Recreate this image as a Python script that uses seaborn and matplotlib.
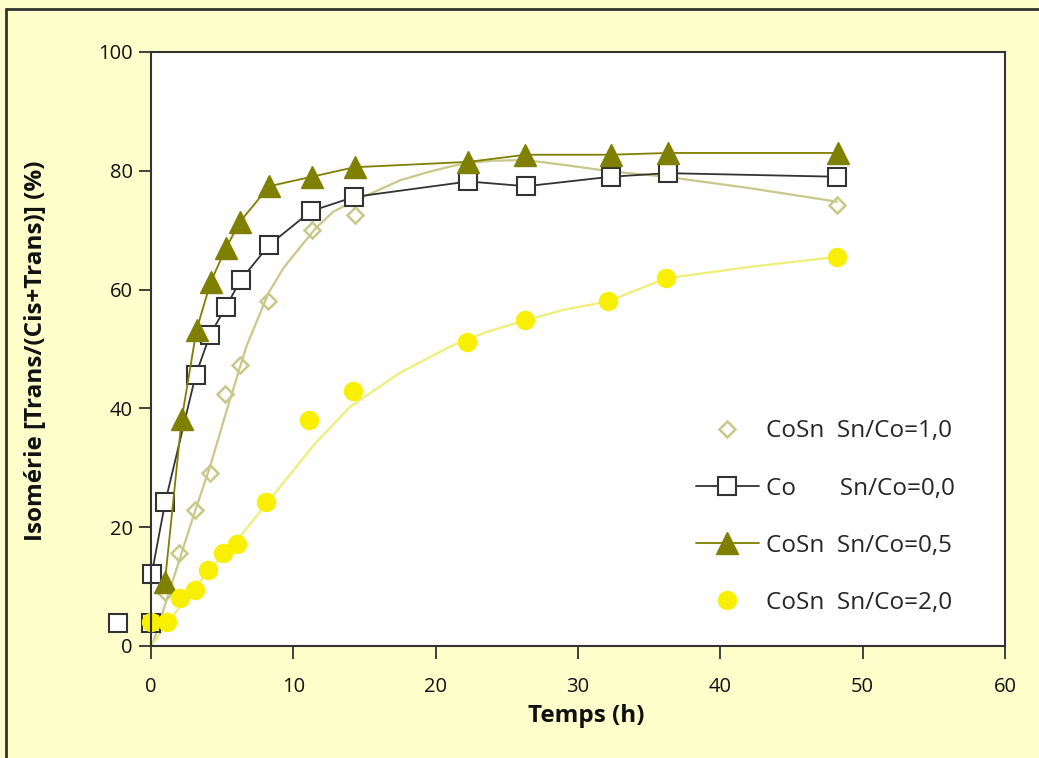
import matplotlib
matplotlib.use('Agg')
import matplotlib.pyplot as plt
from matplotlib.lines import Line2D
import seaborn as sns

# ---- Data ----
# CoSn Sn/Co=1,0 (open diamonds) + its trend curve
t_cosn10 = [0.98, 2.0, 3.1, 4.15, 5.2, 6.25, 8.25, 11.3, 14.3, 48.2]
y_cosn10 = [9.1, 15.6, 22.9, 29.2, 42.4, 47.3, 58.0, 70.0, 72.6, 74.2]
t_cosn10_fit = [0.1, 1.0, 2.0, 3.0, 4.15, 5.3, 6.7, 8.25, 9.3, 10.5, 11.6, 12.8, 14.0, 15.2, 17.5, 19.5,
                21.0, 22.2, 24.0, 26.3, 29.0, 32.3, 36.2, 42.0, 48.2]
y_cosn10_fit = [0.2, 7.0, 14.5, 22.0, 30.2, 39.5, 50.4, 59.4, 63.6, 67.2, 70.4, 73.1, 74.6, 75.9, 78.4, 79.8,
                80.7, 81.3, 81.7, 81.8, 81.0, 79.9, 79.0, 77.1, 74.8]

# Co Sn/Co=0,0 (open squares)
t_co_start = [-2.3, 0.0]
y_co_start = [3.9, 3.9]
t_co = [0.05, 1.0, 3.14, 4.15, 5.27, 6.3, 8.3, 11.24, 14.27, 22.3, 26.35, 32.3, 36.3, 48.2]
y_co = [12.1, 24.2, 45.6, 52.4, 57.1, 61.6, 67.5, 73.2, 75.6, 78.2, 77.4, 79.0, 79.6, 79.0]

# CoSn Sn/Co=0,5 (filled triangles)
t_cosn05 = [0.98, 2.16, 3.2, 4.2, 5.27, 6.25, 8.3, 11.3, 14.3, 22.3, 26.3, 32.3, 36.3, 48.3]
y_cosn05 = [10.8, 38.2, 53.2, 61.3, 67.0, 71.4, 77.4, 79.0, 80.6, 81.5, 82.7, 82.7, 83.0, 83.0]

# CoSn Sn/Co=2,0 (yellow dots) + its trend curve
t_cosn20 = [0.0, 1.1, 2.04, 3.1, 4.03, 5.08, 6.07, 8.08, 11.1, 14.2, 22.2, 26.3, 32.1, 36.2, 48.2]
y_cosn20 = [4.1, 4.1, 8.0, 9.4, 12.8, 15.7, 17.1, 24.3, 38.0, 42.9, 51.2, 54.8, 58.0, 61.9, 65.5]
t_cosn20_fit = [0.0, 2.0, 4.0, 6.25, 9.07, 11.5, 14.0, 17.5, 21.0, 23.5, 26.4, 29.0, 32.1, 36.2, 42.0, 48.2]
y_cosn20_fit = [0.0, 6.5, 12.5, 18.4, 26.8, 34.0, 40.3, 46.0, 50.4, 52.8, 54.9, 56.6, 58.0, 61.9, 63.8, 65.5]

labels = ['CoSn  Sn/Co=1,0', 'Co       Sn/Co=0,0', 'CoSn  Sn/Co=0,5', 'CoSn  Sn/Co=2,0']
x_ticks = [0, 10, 20, 30, 40, 50, 60]
y_ticks = [0, 20, 40, 60, 80, 100]

# ---- Style ----
sns.set_theme(style='ticks')
plt.rcParams['font.family'] = ['Open Sans', 'DejaVu Sans']

bg = '#FFFFCC'
dark = '#333333'
txt = '#111111'
olive = '#7F7F00'
khaki = '#C8C88A'
yellow = '#F8F000'
pale_yellow = '#EEEE77'

fig = plt.figure(figsize=(10.39, 7.58), dpi=100, facecolor=bg)
ax = fig.add_axes([0.1453, 0.1478, 0.8220, 0.7836])
ax.set_facecolor('white')

# trend curves
sns.lineplot(x=t_cosn10_fit, y=y_cosn10_fit, ax=ax, sort=False, estimator=None,
             color=khaki, lw=1.6, label='_nolegend_')
sns.lineplot(x=t_cosn20_fit, y=y_cosn20_fit, ax=ax, sort=False, estimator=None,
             color=pale_yellow, lw=1.6, label='_nolegend_')

# diamonds
sns.lineplot(x=t_cosn10, y=y_cosn10, ax=ax, sort=False, estimator=None,
             linestyle='none', marker='D', ms=8.5, mfc='none', mec=khaki, mew=1.8,
             label=labels[0])

# squares
sns.lineplot(x=t_co_start, y=y_co_start, ax=ax, sort=False, estimator=None,
             linestyle='none', marker='s', ms=13, mfc='white', mec=dark, mew=1.5,
             clip_on=False, label='_nolegend_')
sns.lineplot(x=t_co, y=y_co, ax=ax, sort=False, estimator=None,
             color=dark, lw=1.3, marker='s', ms=13, mfc='white', mec=dark, mew=1.5,
             clip_on=False, label=labels[1])

# triangles
sns.lineplot(x=t_cosn05, y=y_cosn05, ax=ax, sort=False, estimator=None,
             color=olive, lw=1.3, marker='^', ms=16, mfc=olive, mec=olive, mew=1,
             label=labels[2])

# yellow dots
sns.lineplot(x=t_cosn20, y=y_cosn20, ax=ax, sort=False, estimator=None,
             linestyle='none', marker='o', ms=14, mfc=yellow, mec=yellow, mew=0,
             clip_on=False, label=labels[3])

# ---- Axes ----
ax.set_xlim(0, 60)
ax.set_ylim(0, 100)
ax.set_xticks(x_ticks)
ax.set_yticks(y_ticks)
for s in ax.spines.values():
    s.set_color(dark)
    s.set_linewidth(1.5)
ax.tick_params(axis='both', direction='out', length=9, width=1.3, color=dark,
               labelsize=14.5, labelcolor=txt)
ax.tick_params(axis='x', pad=13)
ax.tick_params(axis='y', pad=4)

ax.set_xlabel('Temps (h)', fontsize=17.5, fontweight='bold', color=txt)
ax.set_ylabel('Isomérie [Trans/(Cis+Trans)] (%)', fontsize=17.5, fontweight='bold', color=txt)
ax.xaxis.set_label_coords(0.51, -0.098)
ax.yaxis.set_label_coords(-0.121, 0.497)

leg = ax.legend(loc='center left', bbox_to_anchor=(0.612, 0.217), frameon=False,
                fontsize=17.5, handlelength=2.6, handletextpad=0.3, labelspacing=1.36,
                numpoints=1)

# figure border (left and top only, as in the cropped reference)
fig.add_artist(Line2D([6 / 1039, 6 / 1039], [0, 1 - 9 / 758], transform=fig.transFigure,
                      color=dark, lw=2))
fig.add_artist(Line2D([6 / 1039, 1], [1 - 9 / 758, 1 - 9 / 758], transform=fig.transFigure,
                      color=dark, lw=2))

fig.savefig('out.png', dpi=100, facecolor=bg)
